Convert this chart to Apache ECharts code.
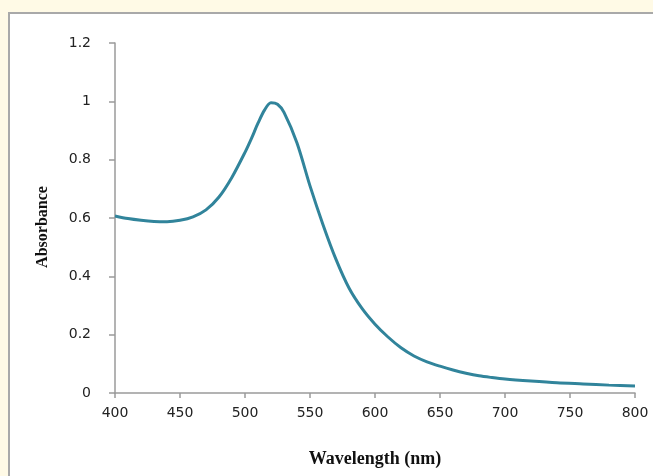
<!DOCTYPE html>
<html>
<head>
<meta charset="utf-8">
<script src="https://cdn.jsdelivr.net/npm/echarts@6/dist/echarts.min.js"></script>
<style>
  html, body { margin: 0; padding: 0; background: #fffae6; }
  #chart { width: 653px; height: 476px; }
</style>
</head>
<body>
<div id="chart"></div>
<script>
// wavelength (nm) and absorbance
const wavelength = [400, 410, 420, 430, 440, 450, 460, 470, 480, 490, 500, 505, 510, 515, 520, 525, 530, 540, 550, 560, 570, 580, 590, 600, 610, 620, 630, 640, 650, 660, 670, 680, 690, 700, 720, 740, 760, 780, 800]
const absorbance = [0.607, 0.598, 0.592, 0.588, 0.587, 0.592, 0.604, 0.628, 0.672, 0.74, 0.825, 0.873, 0.925, 0.97, 0.995, 0.99, 0.962, 0.857, 0.71, 0.577, 0.458, 0.36, 0.29, 0.236, 0.192, 0.155, 0.127, 0.107, 0.092, 0.079, 0.068, 0.059, 0.053, 0.048, 0.041, 0.035, 0.031, 0.027, 0.024]
const xTicks = [400, 450, 500, 550, 600, 650, 700, 750, 800]
const yTicks = [0, 0.2, 0.4, 0.6, 0.8, 1, 1.2]

const axisGray = '#9a9a9a'
const labelFont = { color: '#222', fontFamily: 'DejaVu Sans', fontSize: 14 }
const titleFont = { fontFamily: 'Liberation Serif', fontWeight: 'bold', color: '#111' }

let chart = echarts.init(document.getElementById('chart'))
chart.setOption({
  backgroundColor: '#fffae6',
  animation: false,
  graphic: [
    {
      type: 'rect',
      shape: { x: 9, y: 13, width: 660, height: 480 },
      style: { fill: '#fff', stroke: '#a9a9a9', lineWidth: 2 },
      z: -10
    }
  ],
  grid: { left: 115, right: 18, top: 43, bottom: 83 },
  xAxis: {
    type: 'value',
    min: xTicks[0],
    max: xTicks[xTicks.length - 1],
    interval: 50,
    name: 'Wavelength (nm)',
    nameLocation: 'middle',
    nameGap: 57,
    nameTextStyle: Object.assign({ fontSize: 18 }, titleFont),
    axisLine: { lineStyle: { color: axisGray, width: 1.5 } },
    axisTick: { length: 5, lineStyle: { color: axisGray, width: 1.5 } },
    axisLabel: Object.assign({ margin: 13 }, labelFont),
    splitLine: { show: false }
  },
  yAxis: {
    type: 'value',
    min: yTicks[0],
    max: yTicks[yTicks.length - 1],
    interval: 0.2,
    name: 'Absorbance',
    nameLocation: 'middle',
    nameGap: 64,
    nameTextStyle: Object.assign({ fontSize: 16, padding: [0, 18, 0, 0] }, titleFont),
    axisLine: { show: true, lineStyle: { color: axisGray, width: 1.5 } },
    axisTick: { show: true, length: 6, lineStyle: { color: axisGray, width: 1.5 } },
    axisLabel: Object.assign({ margin: 24, formatter: v => String(Math.round(v * 10) / 10) }, labelFont),
    splitLine: { show: false }
  },
  series: [
    {
      type: 'line',
      smooth: 0.3,
      showSymbol: false,
      lineStyle: { color: '#31849b', width: 3 },
      data: wavelength.map((w, i) => [w, absorbance[i]])
    }
  ]
})
</script>
</body>
</html>
